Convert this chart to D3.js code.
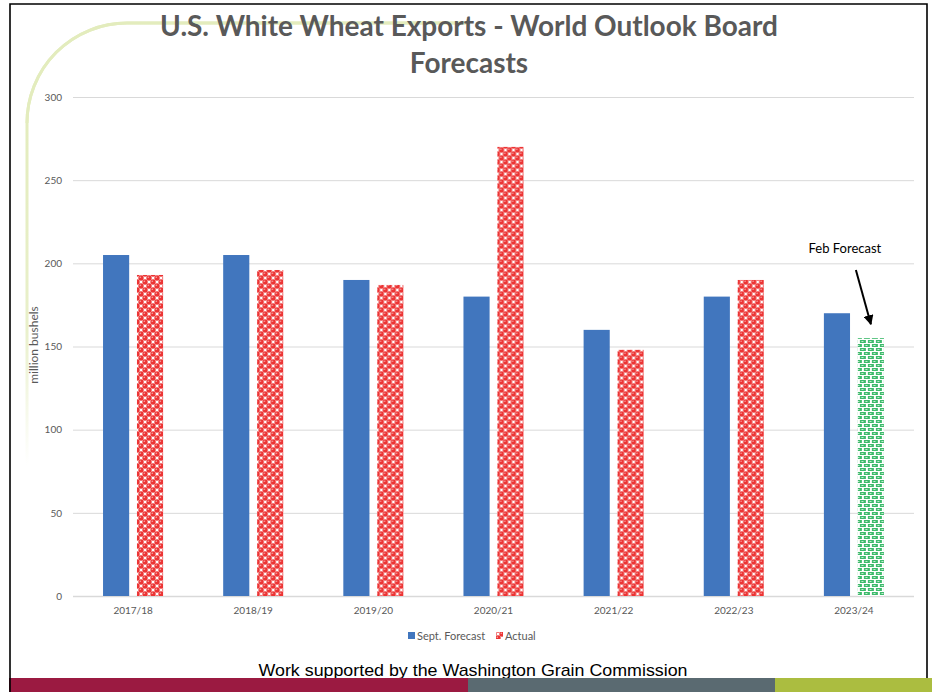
<!DOCTYPE html>
<html>
<head>
<meta charset="utf-8">
<script src="https://cdn.jsdelivr.net/npm/d3@7/dist/d3.min.js"></script>
<style>
  html, body { margin: 0; padding: 0; background: #fff; }
  svg { display: block; }
</style>
</head>
<body>
<svg id="chart" width="932" height="692"></svg>
<script>
// Marketing years
const years = ["2017/18", "2018/19", "2019/20", "2020/21", "2021/22", "2022/23", "2023/24"];
// September WASDE forecast of white wheat exports (million bushels)
const septForecast = [205, 205, 190, 180, 160, 180, 170];
// Actual exports; the final year is still the February forecast
const actual = [193, 196, 187, 270, 148, 190, 155];
const actualIsForecast = [false, false, false, false, false, false, true];
// Axis ticks
const yTicks = [0, 50, 100, 150, 200, 250, 300];
const seriesNames = ["Sept. Forecast", "Actual"];

const svg = d3.select("#chart");
const W = 932, H = 692;
const margin = { left: 73, right: 18, top: 97, bottom: 96 };
const plotRight = W - margin.right;
const plotBottom = H - margin.bottom;
const font = "Lato, 'Open Sans', sans-serif";

const defs = svg.append("defs");

// Red "sphere" pattern for actual exports
const red = defs.append("pattern").attr("id", "redSpheres")
  .attr("patternUnits", "userSpaceOnUse").attr("width", 8).attr("height", 8);
red.append("rect").attr("width", 8).attr("height", 8).attr("fill", "#fff");
[[2, 2], [6, 6], [6, -2], [-2, 6], [10, 2], [2, 10], [10, 10], [-2, -2]].forEach(([cx, cy]) => {
  red.append("circle").attr("cx", cx).attr("cy", cy).attr("r", 2.7).attr("fill", "#ec3434");
  red.append("circle").attr("cx", cx - 0.7).attr("cy", cy - 0.7).attr("r", 0.8).attr("fill", "#f7a5a5");
});

// Green "shingle" pattern for the February forecast
const green = defs.append("pattern").attr("id", "greenShingle")
  .attr("patternUnits", "userSpaceOnUse").attr("width", 8).attr("height", 8);
green.append("rect").attr("width", 8).attr("height", 8).attr("fill", "#fff");
green.append("rect").attr("x", 0).attr("y", 0).attr("width", 6).attr("height", 3).attr("fill", "#3dba6b");
green.append("rect").attr("x", 4).attr("y", 4).attr("width", 6).attr("height", 3).attr("fill", "#3dba6b");
green.append("rect").attr("x", -4).attr("y", 4).attr("width", 6).attr("height", 3).attr("fill", "#3dba6b");
green.append("rect").attr("x", 1.5).attr("y", 1).attr("width", 2).attr("height", 1).attr("fill", "#c9efd6");
green.append("rect").attr("x", 5.5).attr("y", 5).attr("width", 2).attr("height", 1).attr("fill", "#c9efd6");

// Fading gradient for the decorative corner line
const gradV = defs.append("linearGradient").attr("id", "fadeDown")
  .attr("gradientUnits", "userSpaceOnUse").attr("x1", 0).attr("y1", 120).attr("x2", 0).attr("y2", 465);
gradV.append("stop").attr("offset", 0).attr("stop-color", "#e3ecbd").attr("stop-opacity", 1);
gradV.append("stop").attr("offset", 0.6).attr("stop-color", "#e3ecbd").attr("stop-opacity", 0.8);
gradV.append("stop").attr("offset", 1).attr("stop-color", "#e3ecbd").attr("stop-opacity", 0);

// Arrowhead
defs.append("marker").attr("id", "arrow").attr("viewBox", "0 0 10 10")
  .attr("refX", 9).attr("refY", 5).attr("markerWidth", 5).attr("markerHeight", 5)
  .attr("orient", "auto")
  .append("path").attr("d", "M0,0 L10,5 L0,10 z").attr("fill", "#000");

// Decorative rounded corner line
const r = 100;
svg.append("path")
  .attr("d", `M27,465 L27,${23 + r} A${r},${r} 0 0 1 ${27 + r},23 L470,23`)
  .attr("fill", "none").attr("stroke", "url(#fadeDown)").attr("stroke-width", 3);
svg.append("path")
  .attr("d", `M27,${23 + r} A${r},${r} 0 0 1 ${27 + r},23 L470,23`)
  .attr("fill", "none").attr("stroke", "#e3ecbd").attr("stroke-width", 3);

// Scales
const x = d3.scaleBand().domain(years).range([margin.left, plotRight])
  .paddingInner(0.5).paddingOuter(0.25);
const xs = d3.scaleBand().domain(seriesNames).range([0, x.bandwidth()]).paddingInner(0.23);
const y = d3.scaleLinear().domain([0, 300]).range([plotBottom, margin.top]);

// Gridlines
const yAxis = d3.axisLeft(y).tickValues(yTicks).tickSize(-(plotRight - margin.left)).tickPadding(11);
const gy = svg.append("g").attr("transform", `translate(${margin.left},0)`).call(yAxis);
gy.select(".domain").remove();
gy.selectAll(".tick line").attr("stroke", "#d9d9d9").attr("stroke-width", 1);
gy.selectAll(".tick text").attr("fill", "#595959").attr("font-family", font).attr("font-size", 10);
gy.selectAll(".tick").filter(d => d === 0).select("line").attr("stroke-width", 1.5);

// X axis labels
const xAxis = d3.axisBottom(x).tickSize(0).tickPadding(11);
const gx = svg.append("g").attr("transform", `translate(0,${plotBottom})`).call(xAxis);
gx.select(".domain").remove();
gx.selectAll(".tick text").attr("fill", "#595959").attr("font-family", font).attr("font-size", 10);

// Bars
const groups = svg.append("g").selectAll("g").data(years).join("g")
  .attr("transform", d => `translate(${x(d)},0)`);
groups.append("rect")
  .attr("x", xs("Sept. Forecast")).attr("width", xs.bandwidth())
  .attr("y", (d, i) => y(septForecast[i]))
  .attr("height", (d, i) => y(0) - y(septForecast[i]))
  .attr("fill", "#4176be");
groups.append("rect")
  .attr("x", xs("Actual")).attr("width", xs.bandwidth())
  .attr("y", (d, i) => y(actual[i]))
  .attr("height", (d, i) => y(0) - y(actual[i]))
  .attr("fill", (d, i) => actualIsForecast[i] ? "url(#greenShingle)" : "url(#redSpheres)");

// Y-axis title
svg.append("text")
  .attr("transform", "translate(38,345) rotate(-90)")
  .attr("text-anchor", "middle").attr("fill", "#595959")
  .attr("font-family", font).attr("font-size", 12)
  .text("million bushels");

// Helper: scale a text's font size so that it spans a given width
function fitWidth(sel, target) {
  const fs = parseFloat(sel.attr("font-size"));
  const w = sel.node().getComputedTextLength();
  sel.attr("font-size", (fs * target / w).toFixed(2));
}

// Title
const t1 = svg.append("text").attr("x", 469).attr("y", 36).attr("text-anchor", "middle")
  .attr("font-family", font).attr("font-weight", "bold").attr("font-size", 26)
  .attr("fill", "#595959").text("U.S. White Wheat Exports - World Outlook Board");
fitWidth(t1, 618);
svg.append("text").attr("x", 469).attr("y", 73).attr("text-anchor", "middle")
  .attr("font-family", font).attr("font-weight", "bold").attr("font-size", +t1.attr("font-size"))
  .attr("fill", "#595959").text("Forecasts");

// Annotation for the February forecast
const lastYear = years[years.length - 1];
const ax = x(lastYear) + xs("Actual") + xs.bandwidth() / 2;
svg.append("text").attr("x", ax - 26).attr("y", 253).attr("text-anchor", "middle")
  .attr("font-family", font).attr("font-size", 13).attr("fill", "#000")
  .text("Feb Forecast");
svg.append("line")
  .attr("x1", ax - 15).attr("y1", 270)
  .attr("x2", ax).attr("y2", y(actual[actual.length - 1]) - 14)
  .attr("stroke", "#000").attr("stroke-width", 2).attr("marker-end", "url(#arrow)");

// Legend
const legend = svg.append("g").attr("transform", "translate(408,636)");
const legendItems = [
  { name: seriesNames[0], fill: "#4176be", x: 0 },
  { name: seriesNames[1], fill: "url(#redSpheres)", x: 88 }
];
legendItems.forEach(it => {
  legend.append("rect").attr("x", it.x).attr("y", -4).attr("width", 7).attr("height", 7).attr("fill", it.fill);
  legend.append("text").attr("x", it.x + 9).attr("y", 3.5)
    .attr("font-family", font).attr("font-size", 11).attr("fill", "#595959")
    .text(it.name);
});

// Footer note
svg.append("text").attr("x", 473).attr("y", 676).attr("text-anchor", "middle")
  .attr("font-family", "'Liberation Sans', Arial, sans-serif").attr("font-size", 17).attr("fill", "#000")
  .attr("textLength", 429).attr("lengthAdjust", "spacingAndGlyphs")
  .text("Work supported by the Washington Grain Commission");

// Footer colour band
svg.append("rect").attr("x", 9).attr("y", 678).attr("width", 459).attr("height", 14).attr("fill", "#9b1a41");
svg.append("rect").attr("x", 468).attr("y", 678).attr("width", 307).attr("height", 14).attr("fill", "#5a6a71");
svg.append("rect").attr("x", 775).attr("y", 678).attr("width", 157).attr("height", 14).attr("fill", "#abbd40");

// Slide frame
svg.append("path").attr("d", "M10,692 L10,4 L927,4 L927,678")
  .attr("fill", "none").attr("stroke", "#000").attr("stroke-width", 1.6);
</script>
</body>
</html>
